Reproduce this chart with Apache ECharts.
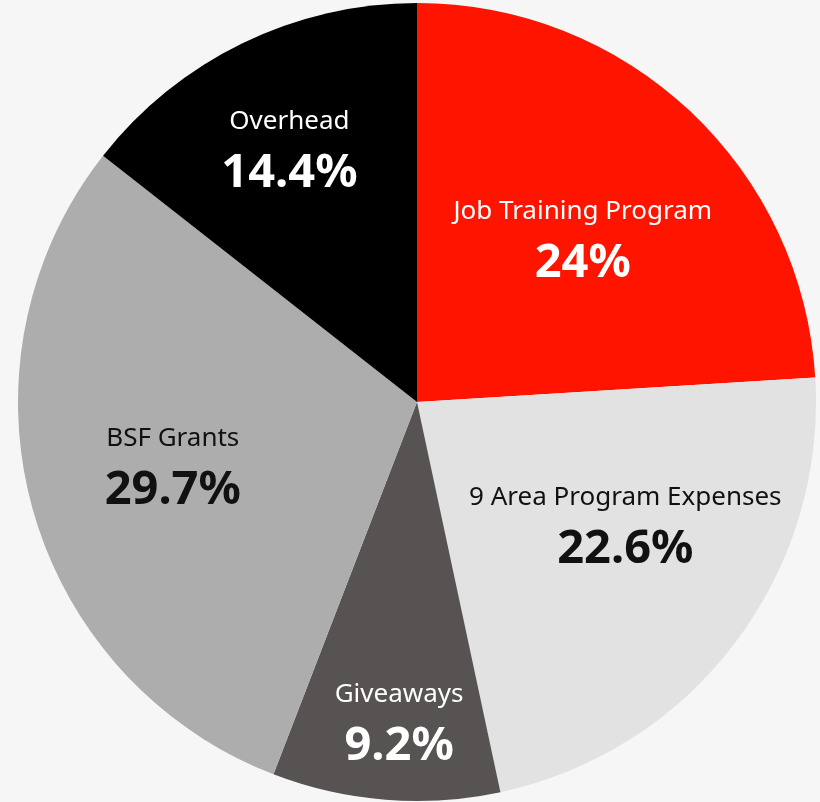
<!DOCTYPE html>
<html>
<head>
<meta charset="utf-8">
<script src="https://cdn.jsdelivr.net/npm/echarts@6/dist/echarts.min.js"></script>
<style>
	html, body { margin: 0; padding: 0; background: #f6f6f6; }
	#chart { width: 820px; height: 802px; }
</style>
</head>
<body>
<div id="chart"></div>
<script>
var sliceNames  = ['Job Training Program', '9 Area Program Expenses', 'Giveaways', 'BSF Grants', 'Overhead'];
var sliceValues = [24, 22.6, 9.2, 29.7, 14.4];
var sliceColors = ['#ff1400', '#e2e2e2', '#575352', '#adadad', '#000000'];
var textColors  = ['#ffffff', '#111111', '#ffffff', '#111111', '#ffffff'];
// nudges from the default inside label spot
var labelOffsets = [[27, -14], [47, 2], [-2, 120], [-49, 12], [-39, -69]];

var chart = echarts.init(document.getElementById('chart'));

var pieData = [];
for (var i = 0; i < sliceNames.length; i++) {
	pieData.push({
		name: sliceNames[i],
		value: sliceValues[i],
		itemStyle: { color: sliceColors[i] },
		label: {
			offset: labelOffsets[i],
			rich: {
				n: { color: textColors[i] },
				p: { color: textColors[i] }
			}
		}
	});
}

chart.setOption({
	backgroundColor: '#f6f6f6',
	animation: false,
	series: [
		{
			type: 'pie',
			center: [417, 402],
			radius: [0, 399],
			startAngle: 90,
			clockwise: true,
			avoidLabelOverlap: false,
			itemStyle: { borderWidth: 0 },
			label: {
				show: true,
				position: 'inside',
				formatter: '{n|{b}}\n{p|{c}%}',
				rich: {
					n: {
						fontFamily: 'Noto Sans',
						fontSize: 26,
						fontWeight: 'normal',
						lineHeight: 46,
						align: 'center'
					},
					p: {
						fontFamily: 'Noto Sans',
						fontSize: 47,
						fontWeight: 'bold',
						lineHeight: 58,
						align: 'center'
					}
				}
			},
			labelLine: { show: false },
			emphasis: { disabled: true },
			data: pieData
		}
	]
});
</script>
</body>
</html>
